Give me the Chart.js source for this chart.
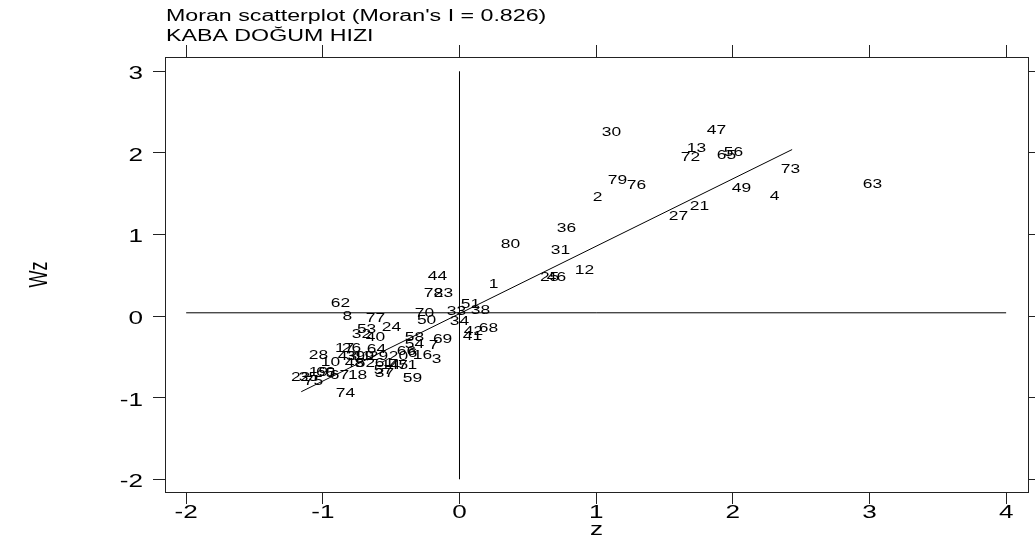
<!DOCTYPE html>
<html>
<head>
<meta charset="utf-8">
<script src="https://cdn.jsdelivr.net/npm/chart.js@4"></script>
<style>
  html, body { margin: 0; padding: 0; background: #fff; }
  #wrap { width: 1035px; height: 541px; }
</style>
</head>
<body>
<div id="wrap"><canvas id="myChart" width="1035" height="541"></canvas></div>
<script>
// province ids and their (z, Wz) positions
const ids = [30, 47, 13, 72, 65, 56, 73, 79, 76, 63,
    2, 49, 4, 27, 21, 36, 80, 31, 12, 25,
    46, 1, 44, 78, 23, 51, 38, 33, 62, 8,
    77, 70, 50, 34, 24, 53, 32, 40, 42, 68,
    41, 58, 54, 69, 7, 66, 6, 16, 3, 64,
    17, 26, 28, 43, 39, 11, 9, 29, 20, 10,
    48, 52, 61, 14, 45, 71, 57, 37, 59, 18,
    19, 60, 5, 67, 22, 35, 75, 74];
const zVals = [1.112, 1.880, 1.734, 1.690, 1.954, 2.005, 2.422, 1.156, 1.295, 3.022,
    1.010, 2.063, 2.305, 1.602, 1.756, 0.783, 0.373, 0.739, 0.915, 0.659,
    0.710, 0.249, -0.161, -0.190, -0.117, 0.080, 0.154, -0.022, -0.871, -0.820,
    -0.615, -0.256, -0.241, 0.000, -0.498, -0.680, -0.717, -0.615, 0.102, 0.212,
    0.095, -0.329, -0.329, -0.124, -0.190, -0.388, -0.344, -0.271, -0.168, -0.607,
    -0.841, -0.790, -1.032, -0.820, -0.761, -0.710, -0.659, -0.593, -0.446, -0.944,
    -0.768, -0.688, -0.549, -0.505, -0.446, -0.380, -0.556, -0.549, -0.344, -0.746,
    -1.032, -0.980, -0.944, -0.878, -1.163, -1.105, -1.068, -0.834];
const wzVals = [2.253, 2.277, 2.057, 1.935, 1.971, 2.008, 1.788, 1.665, 1.604, 1.616,
    1.445, 1.567, 1.469, 1.224, 1.335, 1.065, 0.869, 0.796, 0.551, 0.465,
    0.465, 0.380, 0.478, 0.269, 0.269, 0.135, 0.061, 0.049, 0.147, -0.012,
    -0.037, 0.024, -0.061, -0.073, -0.147, -0.171, -0.233, -0.269, -0.196, -0.159,
    -0.257, -0.269, -0.355, -0.294, -0.367, -0.441, -0.465, -0.490, -0.539, -0.416,
    -0.404, -0.404, -0.490, -0.502, -0.502, -0.502, -0.502, -0.502, -0.502, -0.575,
    -0.588, -0.588, -0.588, -0.612, -0.612, -0.612, -0.673, -0.710, -0.771, -0.735,
    -0.698, -0.698, -0.710, -0.735, -0.759, -0.759, -0.808, -0.955];

// regression line ends and the two reference lines
const fitZ = [-1.158, 2.434];
const fitWz = [-0.927, 2.041];
const hLineZ = [-2, 4];
const hLineWz = [0.04, 0.04];
const vLineZ = [0, 0];
const vLineWz = [-2, 3];

const titleLines = ["Moran scatterplot (Moran's I = 0.826)", "KABA DOĞUM HIZI"];
const xTitle = 'z';
const yTitle = 'Wz';

const xMin = -2.155, xMax = 4.16;
const yMin = -2.156, yMax = 3.175;

const FONT = '"Liberation Sans", Arial, sans-serif';
const SX = 1.45; // text in the original is stretched sideways

function toPoints(xs, ys) {
    return xs.map((x, i) => ({ x: x, y: ys[i] }));
}

// stretch every piece of text horizontally (device x) around its anchor
const stretchText = {
    id: 'stretchText',
    beforeInit(chart) {
        const c = chart.ctx;
        const orig = c.fillText;
        c.fillText = function (text, x, y) {
            const m = this.getTransform();
            const p = m.transformPoint(new DOMPoint(x, y));
            this.save();
            this.setTransform(new DOMMatrix().translate(p.x, p.y).scale(SX, 1)
                .multiply(new DOMMatrix([m.a, m.b, m.c, m.d, 0, 0])));
            orig.call(this, text, 0, 0);
            this.restore();
        };
    }
};

const pointLabels = {
    id: 'pointLabels',
    afterDatasetsDraw(chart) {
        const c = chart.ctx;
        const meta = chart.getDatasetMeta(0);
        c.save();
        c.font = '12px ' + FONT;
        c.fillStyle = '#000';
        c.textAlign = 'center';
        c.textBaseline = 'middle';
        meta.data.forEach((pt, i) => c.fillText(String(ids[i]), pt.x, pt.y));
        c.restore();
    }
};

const titleBlock = {
    id: 'titleBlock',
    afterDraw(chart) {
        const c = chart.ctx;
        c.save();
        c.font = '16px ' + FONT;
        c.fillStyle = '#000';
        c.textAlign = 'left';
        c.textBaseline = 'alphabetic';
        c.fillText(titleLines[0], chart.chartArea.left + 1, 21);
        c.fillText(titleLines[1], chart.chartArea.left + 1, 41);
        c.restore();
    }
};

const axisFont = { family: FONT, size: 18, lineHeight: 1 };
const lineColor = '#222';

function sideAxis(pos, min, max, size) {
    return {
        type: 'linear', position: pos, min: min, max: max,
        ticks: { display: false, stepSize: 1, includeBounds: false },
        grid: { drawOnChartArea: false, tickLength: size, color: lineColor },
        border: { color: lineColor },
        afterFit: s => {
            if (pos === 'top') s.height = 57; else s.width = size;
        }
    };
}

const lineStyle = {
    showLine: true, borderColor: '#000', borderWidth: 1,
    pointRadius: 0, fill: false
};

new Chart(document.getElementById('myChart').getContext('2d'), {
    type: 'scatter',
    data: {
        datasets: [
            { data: toPoints(zVals, wzVals), pointRadius: 0, xAxisID: 'x', yAxisID: 'y' },
            { data: toPoints(fitZ, fitWz), ...lineStyle },
            { data: toPoints(hLineZ, hLineWz), ...lineStyle },
            { data: toPoints(vLineZ, vLineWz), ...lineStyle }
        ]
    },
    options: {
        responsive: false,
        animation: false,
        devicePixelRatio: 1,
        layout: { padding: 0 },
        plugins: { legend: { display: false }, tooltip: { enabled: false }, title: { display: false } },
        scales: {
            x: {
                type: 'linear', position: 'bottom', min: xMin, max: xMax,
                ticks: { stepSize: 1, includeBounds: false, color: '#000', font: axisFont, padding: 0, maxRotation: 0 },
                grid: { drawOnChartArea: false, tickLength: 12, color: lineColor },
                border: { color: lineColor },
                title: { display: true, text: xTitle, color: '#000', font: { family: FONT, size: 18 }, padding: { top: 0, bottom: 0 } },
                afterFit: s => { s.height = 49; }
            },
            x2: sideAxis('top', xMin, xMax, 12),
            y: {
                type: 'linear', position: 'left', min: yMin, max: yMax,
                ticks: { stepSize: 1, includeBounds: false, color: '#000', font: axisFont, padding: 10, labelOffset: 3 },
                grid: { drawOnChartArea: false, tickLength: 12, color: lineColor },
                border: { color: lineColor },
                title: { display: true, text: yTitle, color: '#000', font: { family: FONT, size: 18 }, padding: { top: 29, bottom: 0 } },
                afterFit: s => { s.width = 165; }
            },
            y2: sideAxis('right', yMin, yMax, 7)
        }
    },
    plugins: [stretchText, pointLabels, titleBlock]
});
</script>
</body>
</html>
